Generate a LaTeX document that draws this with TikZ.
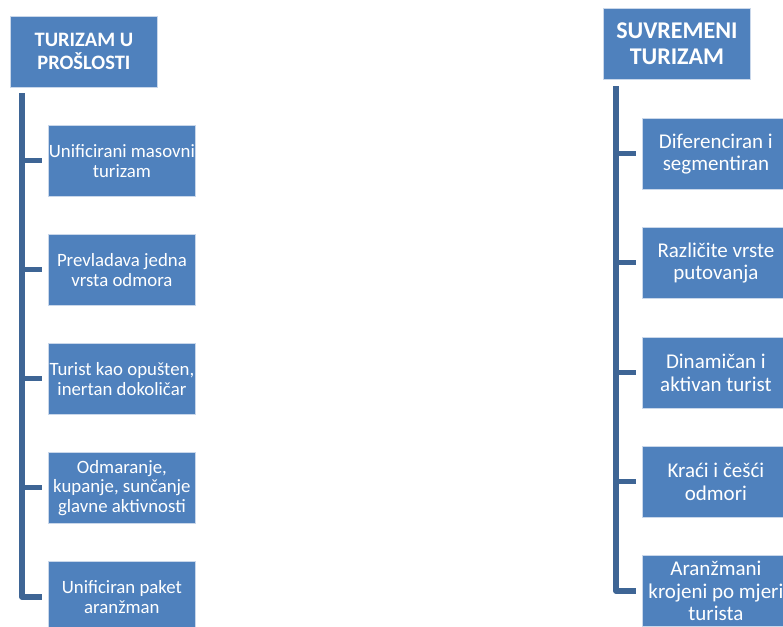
\documentclass[tikz,border=0pt]{standalone}
\usepackage{fontspec}
\setmainfont{Carlito}
\definecolor{boxblue}{HTML}{4F81BD}
\definecolor{lineblue}{HTML}{3E6595}
\definecolor{edgeblue}{HTML}{C9D7EA}
\begin{document}
\begin{tikzpicture}[x=1pt,y=-1pt,
  hdr/.style={draw=edgeblue,line width=0.8pt,fill=boxblue,text=white,anchor=north west,
    minimum width=147pt,minimum height=71pt,align=center,inner sep=0pt,
    font=\fontsize{20.5}{23}\selectfont\bfseries},
  hdrR/.style={hdr,font=\fontsize{24}{26}\selectfont\bfseries},
  itemL/.style={draw=edgeblue,line width=0.8pt,fill=boxblue,text=white,anchor=north west,
    minimum width=147pt,minimum height=71pt,align=center,inner sep=0pt,
    font=\fontsize{18.8}{19.5}\selectfont},
  itemR/.style={itemL,font=\fontsize{21}{22.5}\selectfont},
  trunk/.style={draw=lineblue,line width=5.5pt,line join=round},
  tick/.style={draw=lineblue,line width=5pt}]
\useasboundingbox (0,0) rectangle (783,626);
\clip (0,0) rectangle (783,626);
\fill[white] (0,0) rectangle (783,626);
% left column
\node[hdr] (hL) at (10,16) {TURIZAM U\\PROŠLOSTI};
\node[itemL] (L1) at (48,125) {Unificirani masovni\\turizam};
\node[itemL] (L2) at (48,234) {Prevladava jedna\\vrsta odmora};
\node[itemL] (L3) at (48,343) {Turist kao opušten,\\inertan dokoličar};
\node[itemL] (L4) at (48,452) {Odmaranje,\\kupanje, sunčanje\\glavne aktivnosti};
\node[itemL] (L5) at (48,561) {Unificiran paket\\aranžman};
\coordinate (Ltop) at (22,93);
\draw[trunk] (Ltop) |- ([xshift=-6pt]L5.west);
\foreach \b in {L1,L2,L3,L4}{\draw[tick] (\b.west -| Ltop) -- ([xshift=-6pt]\b.west);}
% right column
\node[hdrR] (hR) at (603,8) {SUVREMENI\\TURIZAM};
\node[itemR] (R1) at (642,118) {Diferenciran i\\segmentiran};
\node[itemR] (R2) at (642,227) {Različite vrste\\putovanja};
\node[itemR] (R3) at (642,337) {Dinamičan i\\aktivan turist};
\node[itemR] (R4) at (642,446) {Kraći i češći\\odmori};
\node[itemR] (R5) at (642,555) {Aranžmani\\krojeni po mjeri\\turista};
\coordinate (Rtop) at (616,86);
\draw[trunk] (Rtop) |- ([xshift=-6pt]R5.west);
\foreach \b in {R1,R2,R3,R4}{\draw[tick] (\b.west -| Rtop) -- ([xshift=-6pt]\b.west);}
\end{tikzpicture}
\end{document}
